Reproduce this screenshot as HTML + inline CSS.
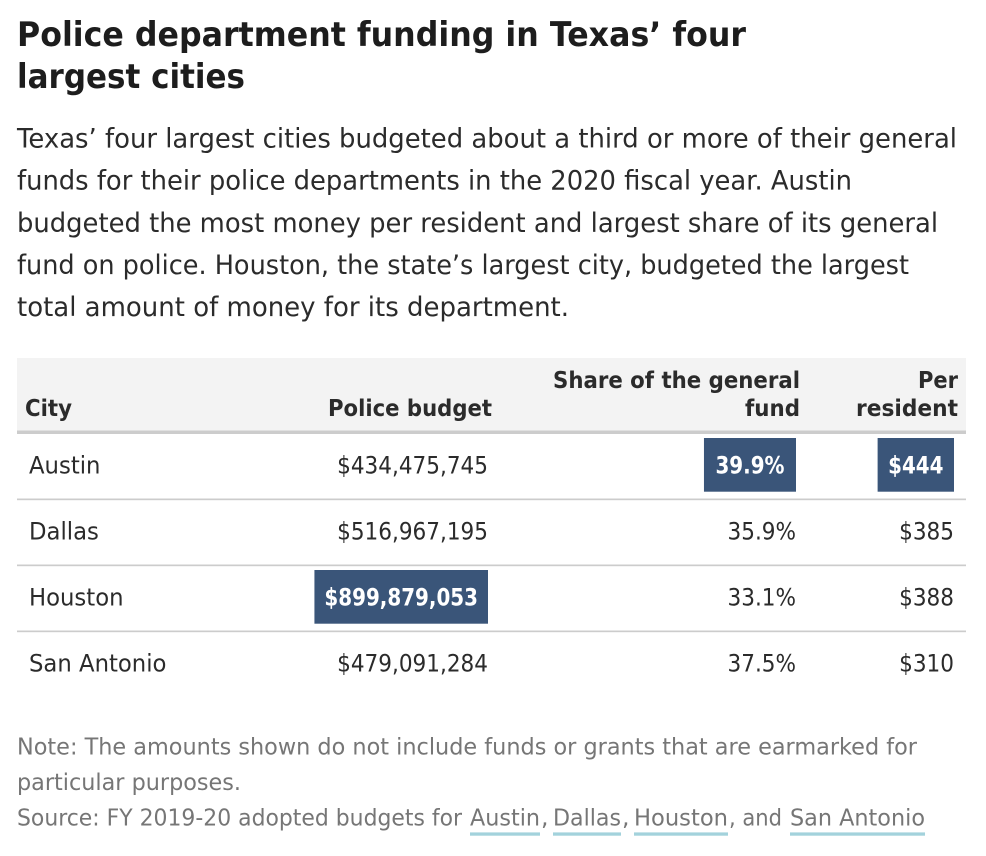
<!DOCTYPE html>
<html lang="en">
<head>
<meta charset="utf-8">
<title>Police department funding in Texas' four largest cities</title>
<style>
html,body{margin:0;padding:0;background:#fff;width:986px;height:856px;overflow:hidden}
svg{display:block}
text{font-family:"DejaVu Sans","Liberation Sans",sans-serif}
.title{font-size:34px;font-weight:700;fill:#1d1d1d}
.body{font-size:27px;fill:#2b2b2b}
.head{font-size:23px;font-weight:700;fill:#2b2b2b}
.note{font-size:23.5px;fill:#767676}
.link{font-size:23.5px;fill:#767676;cursor:pointer}
.cell{font-size:23.7px;fill:#2b2b2b}
.cell-hi{font-size:23.7px;font-weight:700;fill:#fff}
</style>
</head>
<body>
<svg id="chart" xmlns="http://www.w3.org/2000/svg" width="986" height="856" viewBox="0 0 986 856">
  <text class="title" x="17" y="46" textLength="729" lengthAdjust="spacingAndGlyphs">Police department funding in Texas’ four</text>
  <text class="title" x="17" y="88" textLength="228" lengthAdjust="spacingAndGlyphs">largest cities</text>

  <text class="body" x="17" y="147.5" textLength="940" lengthAdjust="spacingAndGlyphs">Texas’ four largest cities budgeted about a third or more of their general</text>
  <text class="body" x="17" y="189.5" textLength="835" lengthAdjust="spacingAndGlyphs">funds for their police departments in the 2020 fiscal year. Austin</text>
  <text class="body" x="17" y="232" textLength="921" lengthAdjust="spacingAndGlyphs">budgeted the most money per resident and largest share of its general</text>
  <text class="body" x="17" y="274" textLength="892" lengthAdjust="spacingAndGlyphs">fund on police. Houston, the state’s largest city, budgeted the largest</text>
  <text class="body" x="17" y="316" textLength="552" lengthAdjust="spacingAndGlyphs">total amount of money for its department.</text>

  <rect x="17" y="358" width="949" height="72.5" fill="#f3f3f3"/>
  <rect x="17" y="430.5" width="949" height="3.5" fill="#cccccc"/>
  <text class="head" x="25" y="416" textLength="47" lengthAdjust="spacingAndGlyphs">City</text>
  <text class="head" x="328" y="416" textLength="164" lengthAdjust="spacingAndGlyphs">Police budget</text>
  <text class="head" x="553" y="388" textLength="247" lengthAdjust="spacingAndGlyphs">Share of the general</text>
  <text class="head" x="745" y="416" textLength="55" lengthAdjust="spacingAndGlyphs">fund</text>
  <text class="head" x="918" y="388" textLength="40" lengthAdjust="spacingAndGlyphs">Per</text>
  <text class="head" x="856" y="416" textLength="102" lengthAdjust="spacingAndGlyphs">resident</text>

  <g id="rows"></g>

  <text class="note" x="17" y="754.5" textLength="900" lengthAdjust="spacingAndGlyphs">Note: The amounts shown do not include funds or grants that are earmarked for</text>
  <text class="note" x="17" y="790" textLength="224" lengthAdjust="spacingAndGlyphs">particular purposes.</text>
  <text class="note" x="17" y="825.5" textLength="445" lengthAdjust="spacingAndGlyphs">Source: FY 2019-20 adopted budgets for</text>
  <text class="link" x="470" y="825.5" textLength="70" lengthAdjust="spacingAndGlyphs">Austin</text>
  <text class="note" x="541" y="825.5">,</text>
  <text class="link" x="553" y="825.5" textLength="68" lengthAdjust="spacingAndGlyphs">Dallas</text>
  <text class="note" x="622" y="825.5">,</text>
  <text class="link" x="634" y="825.5" textLength="94" lengthAdjust="spacingAndGlyphs">Houston</text>
  <text class="note" x="729" y="825.5" textLength="53" lengthAdjust="spacingAndGlyphs">, and</text>
  <text class="link" x="790" y="825.5" textLength="135" lengthAdjust="spacingAndGlyphs">San Antonio</text>
  <rect x="470" y="832.4" width="70" height="3.3" fill="#a3d2dc"/>
  <rect x="553" y="832.4" width="68" height="3.3" fill="#a3d2dc"/>
  <rect x="634" y="832.4" width="94" height="3.3" fill="#a3d2dc"/>
  <rect x="790" y="832.4" width="135" height="3.3" fill="#a3d2dc"/>
</svg>
<script>
const cities = ["Austin", "Dallas", "Houston", "San Antonio"];
const budgets = [434475745, 516967195, 899879053, 479091284];
const shares = [39.9, 35.9, 33.1, 37.5];
const perResident = [444, 385, 388, 310];

const SVG_NS = "http://www.w3.org/2000/svg";
const rowsGroup = document.getElementById("rows");
const rowY = function (i) { return 473.3 + i * 66; };
const money = function (v) { return "$" + v.toLocaleString("en-US"); };
const percent = function (v) { return v.toFixed(1) + "%"; };

function drawText(label, className, rowIndex, anchorX, anchor, squeeze) {
  const t = document.createElementNS(SVG_NS, "text");
  t.setAttribute("class", className);
  t.setAttribute("y", rowY(rowIndex));
  t.textContent = label;
  rowsGroup.appendChild(t);
  const width = t.getComputedTextLength() * squeeze;
  t.setAttribute("x", anchor === "end" ? anchorX - width : anchorX);
  t.setAttribute("textLength", width);
  t.setAttribute("lengthAdjust", "spacingAndGlyphs");
  return { node: t, width: width };
}

function drawValue(label, rowIndex, rightX, isMax, padding, name) {
  if (isMax) {
    const probe = drawText(label, "cell-hi", rowIndex, rightX - padding, "end", 0.84);
    const box = document.createElementNS(SVG_NS, "rect");
    
    
    box.setAttribute("x", rightX - probe.width - padding * 2);
    box.setAttribute("y", rowY(rowIndex) - 35.3);
    box.setAttribute("width", probe.width + padding * 2);
    box.setAttribute("height", 53.7);
    box.setAttribute("fill", "#3a5579");
    rowsGroup.insertBefore(box, probe.node);
    
    
  } else {
    const plain = drawText(label, "cell", rowIndex, rightX, "end", 0.91);
    
    
  }
}

cities.forEach(function (city, i) {
  const nameCell = drawText(city, "cell", i, 29, "start", 0.96);
  
  

  drawValue(money(budgets[i]), i, 488, budgets[i] === Math.max.apply(null, budgets), 10, "police-budget-value");
  drawValue(percent(shares[i]), i, 796, shares[i] === Math.max.apply(null, shares), 11.5, "general-fund-share-value");
  drawValue(money(perResident[i]), i, 954, perResident[i] === Math.max.apply(null, perResident), 10.5, "per-resident-value");

  if (i < cities.length - 1) {
    const rule = document.createElementNS(SVG_NS, "rect");
    
    
    rule.setAttribute("x", 17);
    rule.setAttribute("y", rowY(i) + 25.2);
    rule.setAttribute("width", 949);
    rule.setAttribute("height", 1.7);
    rule.setAttribute("fill", "#cccccc");
    rowsGroup.appendChild(rule);
  }
});
</script>
</body>
</html>
